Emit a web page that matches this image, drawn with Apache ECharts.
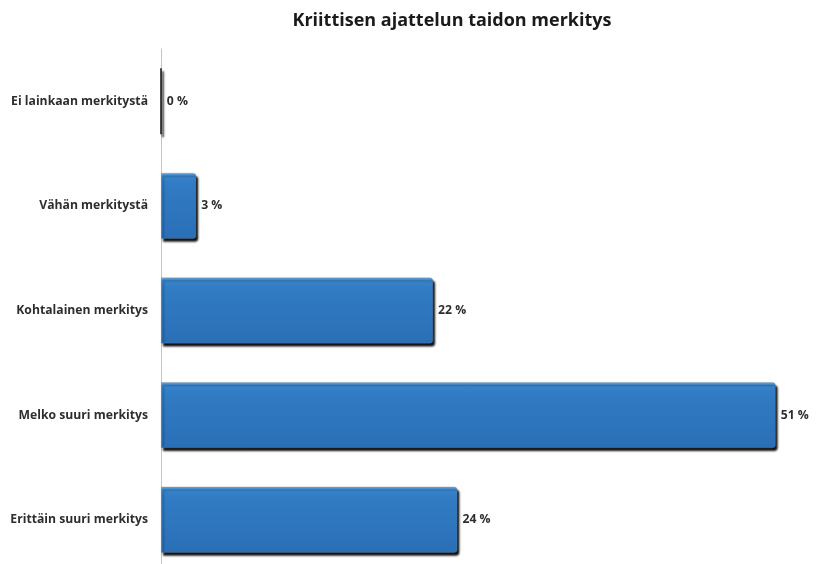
<!DOCTYPE html>
<html><head><meta charset="utf-8">
<script src="https://cdn.jsdelivr.net/npm/echarts@6/dist/echarts.min.js"></script>
<style>html,body{margin:0;padding:0;background:#fff}#c{width:817px;height:564px}</style>
</head><body><div id="c"></div>
<script>
const titleText = 'Kriittisen ajattelun taidon merkitys';
const categories = ['Ei lainkaan merkitystä','Vähän merkitystä','Kohtalainen merkitys','Melko suuri merkitys','Erittäin suuri merkitys'];
const values = [0, 2.9, 22.4, 50.6, 24.4];

const chart = echarts.init(document.getElementById('c'));
chart.setOption({
  backgroundColor: '#fff',
  animation: false,
  title: {text: titleText, left: 447, top: 7, textAlign: 'center',
    textStyle: {fontFamily: 'Open Sans', fontSize: 18, fontWeight: 'bold', color: '#1a1a1a'}},
  grid: {left: 161, right: 0, top: 49, height: 523, containLabel: false, outerBoundsMode: 'none'},
  xAxis: {type: 'value', min: 0, max: 54, show: false},
  yAxis: {type: 'category', data: categories, inverse: true,
    axisLine: {show: true, lineStyle: {color: '#c4c4c4', width: 1}},
    axisTick: {show: false},
    axisLabel: {margin: 13, fontFamily: 'Open Sans', fontSize: 12.2, fontWeight: 'bold', color: '#2e2e2e'}},
  series: [{
    type: 'bar', barWidth: 66,
    data: values.map((v, i) => i === 0 ? {value: v, itemStyle: {borderColor: '#111', borderWidth: 1.5}} : v),
    itemStyle: {
      color: new echarts.graphic.LinearGradient(0, 0, 0, 1, [
        {offset: 0, color: '#6aaae2'}, {offset: 0.05, color: '#3a86cd'}, {offset: 0.15, color: '#317cc4'}, {offset: 1, color: '#2a6fb6'}]),
      borderColor: 'rgba(120,130,140,0.6)', borderWidth: 0.6,
      borderRadius: [0, 3, 3, 0],
      shadowColor: 'rgba(0,0,0,0.95)', shadowOffsetX: 2, shadowOffsetY: 3, shadowBlur: 2
    },
    label: {show: true, position: 'right', distance: 5,
      formatter: p => Math.round(p.value) + ' %',
      fontFamily: 'Open Sans', fontSize: 12.2, fontWeight: 'bold', color: '#2e2e2e'}
  }]
});
</script></body></html>
